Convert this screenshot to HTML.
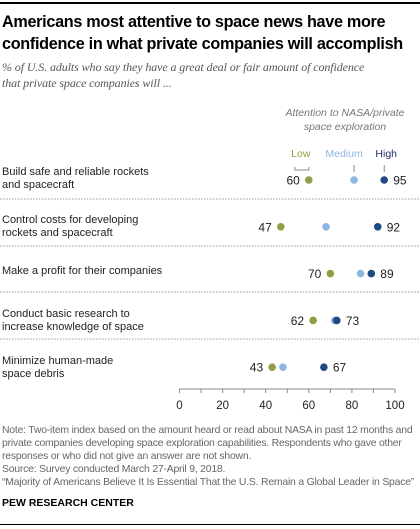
<!DOCTYPE html>
<html><head><meta charset="utf-8"><style>
body{margin:0;background:#fff;width:420px;height:529px;overflow:hidden;position:relative;font-family:"Liberation Sans",sans-serif;}
.abs{position:absolute;}
.title{left:2px;top:11px;font-size:16.2px;font-weight:bold;line-height:22px;color:#000;letter-spacing:-0.3px;white-space:nowrap;}
.sub{left:2px;top:59px;font-family:"Liberation Serif",serif;font-style:italic;font-size:12px;line-height:16px;color:#555;white-space:nowrap;letter-spacing:-0.1px;}
.lab{left:2px;font-size:11px;line-height:13px;color:#222;}
.note{left:2px;top:424px;font-size:10.4px;line-height:13px;color:#666;letter-spacing:-0.2px;white-space:nowrap;}
</style></head><body>
<div class="abs" style="left:0;top:2px;width:420px;height:2px;background:#000"></div>
<div class="abs title">Americans most attentive to space news have more<br>confidence in what private companies will accomplish</div>
<div class="abs sub">% of U.S. adults who say they have a great deal or fair amount of confidence<br>that private space companies will ...</div>
<div class="abs" style="left:270px;top:106px;width:150px;text-align:center;font-size:10.5px;font-style:italic;color:#777;line-height:14px">Attention to NASA/private<br>space exploration</div>
<div class="abs lab" style="top:166px">Build safe and reliable rockets<br>and spacecraft</div>
<div class="abs lab" style="top:214px">Control costs for developing<br>rockets and spacecraft</div>
<div class="abs lab" style="top:265px">Make a profit for their companies</div>
<div class="abs lab" style="top:308px">Conduct basic research to<br>increase knowledge of space</div>
<div class="abs lab" style="top:355px">Minimize human-made<br>space debris</div>
<svg class="abs" style="left:0;top:0" width="420" height="529"></svg>
<div class="abs note">Note: Two-item index based on the amount heard or read about NASA in past 12 months and<br>private companies developing space exploration capabilities. Respondents who gave other<br>responses or who did not give an answer are not shown.<br>Source: Survey conducted March 27-April 9, 2018.<br>“Majority of Americans Believe It Is Essential That the U.S. Remain a Global Leader in Space”</div>
<div class="abs" style="left:2px;top:497px;font-size:10.5px;font-weight:bold;color:#000">PEW RESEARCH CENTER</div>
<div class="abs" style="left:0;top:524px;width:420px;height:1px;background:#000"></div>
<script>
const categories=["Build safe and reliable rockets and spacecraft","Control costs for developing rockets and spacecraft","Make a profit for their companies","Conduct basic research to increase knowledge of space","Minimize human-made space debris"];
const lowVals=[60,47,70,62,43];
const medVals=[81,68,84,72,48];
const highVals=[95,92,89,73,67];
const ticks=[0,20,40,60,80,100];
const NS="http://www.w3.org/2000/svg";
const svg=document.querySelector("svg");
const x=v=>179.5+v*2.155;
const rowY=i=>180+i*46.8;
function mk(t,a){const e=document.createElementNS(NS,t);for(const k in a)e.setAttribute(k,a[k]);svg.appendChild(e);return e;}
[199,246,292,339].forEach(y=>{const l=mk("line",{x1:0,x2:420,y1:y,y2:y,stroke:"#999","stroke-dasharray":"1.5,1.5","stroke-width":1});

});
const ax=mk("line",{x1:x(0),x2:x(100),y1:389,y2:389,stroke:"#888"});


for(let v=0;v<=100;v+=10){const t=mk("line",{x1:x(v),x2:x(v),y1:389,y2:393,stroke:"#888"});

}
ticks.forEach(v=>{const t=mk("text",{x:x(v),y:409,"text-anchor":"middle","font-size":11.5,fill:"#222"});t.textContent=v;

});
const cols={low:"#949c45",med:"#8fb6e3",high:"#1f4a7f"};
categories.forEach((c,i)=>{const y=rowY(i);
[["med",medVals],["low",lowVals],["high",highVals]].forEach(([k,arr])=>{
const d=mk("circle",{cx:x(arr[i]),cy:y,r:3.8,fill:cols[k]});

});
const a=mk("text",{x:x(lowVals[i])-9,y:y+4.5,"text-anchor":"end","font-size":12,fill:"#222"});a.textContent=lowVals[i];


const b=mk("text",{x:x(highVals[i])+9,y:y+4.5,"font-size":12,fill:"#222"});b.textContent=highVals[i];

});
[["Low",lowVals[0],cols.low,-8],["Medium",medVals[0],cols.med,-10],["High",highVals[0],"#1f2f6f",2]].forEach(([t,v,c,off],j)=>{
const e=mk("text",{x:x(v)+off,y:157,"text-anchor":"middle","font-size":10.5,fill:c});e.textContent=t;


if(j==0){const p=mk("path",{d:`M${x(v)-14} 167V170H${x(v)}V167`,stroke:"#888",fill:"none"});

}
else{const l=mk("line",{x1:x(v),x2:x(v),y1:165,y2:172,stroke:"#888"});

}});
</script>
</body></html>
